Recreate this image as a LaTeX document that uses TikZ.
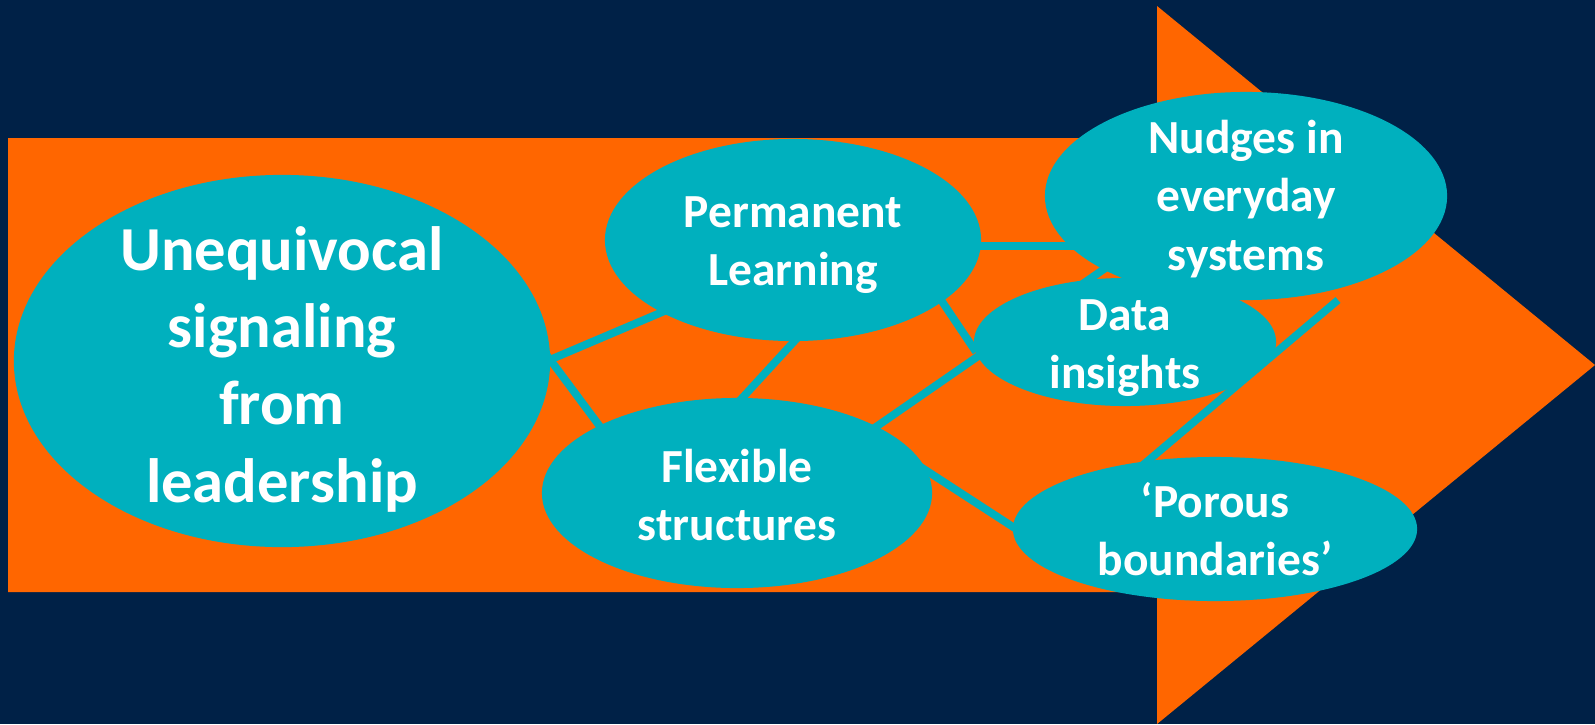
\documentclass[tikz,border=0pt]{standalone}
\usepackage{fontspec}
\setmainfont{Carlito}
\usetikzlibrary{shapes.geometric}
\definecolor{navy}{RGB}{0,33,71}
\definecolor{orng}{RGB}{255,102,0}
\definecolor{tealc}{RGB}{0,176,190}
\pgfdeclarelayer{back}
\pgfdeclarelayer{lines}
\pgfsetlayers{back,lines,main}
\begin{document}
\begin{tikzpicture}[x=0.01cm,y=-0.01cm,
  ell/.style={ellipse, fill=tealc, inner sep=0pt},
  txt/.style={text=white, align=center, inner sep=0pt,
    font=\bfseries\fontsize{13.5}{16.7}\selectfont},
  conn/.style={draw=tealc, line width=2.2pt}]
\useasboundingbox (0,0) rectangle (1595,724);
% ellipses
\node[ell, minimum width=5.36cm, minimum height=3.72cm,
  label={[txt, yshift=-0.08cm, font=\bfseries\fontsize{17.8}{22}\selectfont]center:{Unequivocal\\signaling\\from\\leadership}}] (U) at (282,361) {};
\node[ell, minimum width=3.76cm, minimum height=2.02cm,
  label={[txt, yshift=-0.05cm]center:{Permanent\\Learning}}] (P) at (793,240) {};
\node[ell, minimum width=3.90cm, minimum height=1.90cm,
  label={[txt, yshift=-0.02cm]center:{Flexible\\structures}}] (F) at (737,493) {};
\node[ell, minimum width=3.02cm, minimum height=1.28cm,
  label={[txt, yshift=-0.06cm]center:{Data\\insights}}] (D) at (1125,342) {};
\node[ell, minimum width=4.02cm, minimum height=2.08cm,
  label={[txt, yshift=-0.03cm]center:{Nudges in\\everyday\\systems}}] (N) at (1246,196) {};
\node[ell, minimum width=4.04cm, minimum height=1.44cm,
  label={[txt]center:{‘Porous\\boundaries’}}] (Po) at (1215,529) {};
\coordinate (free) at (1338,300);
% background and arrow
\begin{pgfonlayer}{back}
\fill[navy] (0,0) rectangle (1595,724);
\fill[orng] (8,138) -- (1157,138) -- (1157,6) -- (1595,365) -- (1157,724) -- (1157,592) -- (8,592) -- cycle;
\end{pgfonlayer}
% connectors
\begin{pgfonlayer}{lines}
\draw[conn] ([shift={(258,3)}]U.center) -- ([shift={(-113,64.5)}]P.center);
\draw[conn] ([shift={(258,-15)}]U.center) -- ([shift={(-127,-53)}]F.center);
\draw[conn] ([shift={(7,95)}]P.center) -- ([shift={(-4,-85)}]F.center);
\draw[conn] ([shift={(142,51)}]P.center) -- ([shift={(-149,10)}]D.center);
\draw[conn] ([shift={(182,6)}]P.center) -- ([shift={(-166,50)}]N.center);
\draw[conn] ([shift={(133,-62)}]F.center) -- ([shift={(-126,62)}]N.center);
\draw[conn] ([shift={(183,-26.5)}]F.center) -- ([shift={(-185,9)}]Po.center);
\draw[conn] (free) -- ([shift={(-75,-61.5)}]Po.center);
\end{pgfonlayer}
\end{tikzpicture}
\end{document}
